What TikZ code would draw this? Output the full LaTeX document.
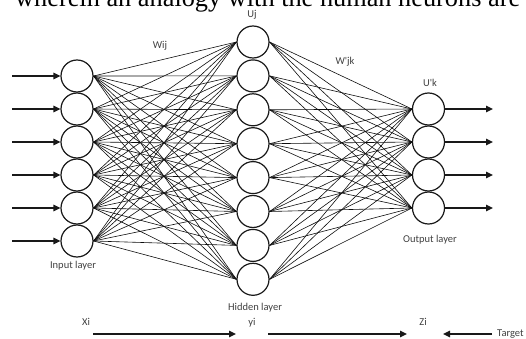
\documentclass[tikz,border=0pt]{standalone}
\usepackage{fontspec}
\usepackage{graphicx}
\setmainfont{Liberation Serif}
\newfontfamily\labelfont{Carlito}
\usetikzlibrary{arrows.meta}

\tikzset{
  neuron/.style={circle, draw=black!90, line width=1.2pt, minimum size=32pt, inner sep=0pt},
  synapse/.style={draw=black!95, line width=0.6pt},
  signal/.style={draw=black!90, line width=1.3pt, -{Triangle[length=7pt,width=6.5pt]}},
  lbl/.style={font=\labelfont\fontsize{10.5}{12}\selectfont, text=black!75, inner sep=0pt}
}

\begin{document}
\begin{tikzpicture}[x=1pt, y=-1pt]
  \useasboundingbox (0,0) rectangle (526,339);

  % running text line of the page above the figure
  \begin{scope}
    \clip (0,0) rectangle (526,339);
    \node[anchor=base west, inner sep=0pt] (caption) at (15,7)
      {\resizebox{505pt}{!}{wherein an analogy with the human neurons are}};
  \end{scope}

  % input layer
  \foreach \i [count=\n] in {76,109,142,175,208,241} {
    \node[neuron] (in\n) at (77,\i) {};
    \coordinate (src\n) at (12,\i);
    \draw[signal] (src\n) -- (in\n.west);
  }

  % hidden layer
  \foreach \n in {1,...,8} {
    \node[neuron] (hid\n) at (253,{42+(\n-1)*33.9}) {};
  }

  % output layer
  \foreach \i [count=\n] in {109,142,175,208} {
    \node[neuron] (out\n) at (428.5,\i) {};
    \coordinate (dst\n) at (493,\i);
    \draw[signal] (out\n.east) -- (dst\n);
  }

  % weights input -> hidden
  \foreach \a in {1,...,6} {
    \foreach \b in {1,...,8} {
      \draw[synapse] (in\a.east) -- (hid\b.west);
    }
  }
  % weights hidden -> output
  \foreach \b in {1,...,8} {
    \foreach \c in {1,...,4} {
      \draw[synapse] (hid\b.east) -- (out\c.west);
    }
  }

  % labels
  \node[lbl] (uj)  at (252,15)  {Uj};
  \node[lbl] (wij) at (160,46)  {Wij};
  \node[lbl] (wjk) at (345,62)  {W'jk};
  \node[lbl] (uk)  at (430,83)  {U'k};
  \node[lbl] (inl) at (73,266)  {Input layer};
  \node[lbl] (hidl) at (255,308) {Hidden layer};
  \node[lbl] (outl) at (430,240) {Output layer};

  % signal flow along the bottom
  \node[lbl] (xi) at (86,322)  {Xi};
  \node[lbl] (yi) at (252,323) {yi};
  \node[lbl] (zi) at (423,322) {Zi};
  \node[lbl, anchor=west] (target) at (497,334) {Target};
  \coordinate (f1a) at (93,334);
  \coordinate (f1b) at (236,334);
  \coordinate (f2a) at (268,334);
  \coordinate (f2b) at (407,334);
  \draw[signal] (f1a) -- (f1b);
  \draw[signal] (f2a) -- (f2b);
  \draw[signal] (target.west) ++(-5,0) coordinate (f3a) -- (443,334) coordinate (f3b);
\end{tikzpicture}
\end{document}
